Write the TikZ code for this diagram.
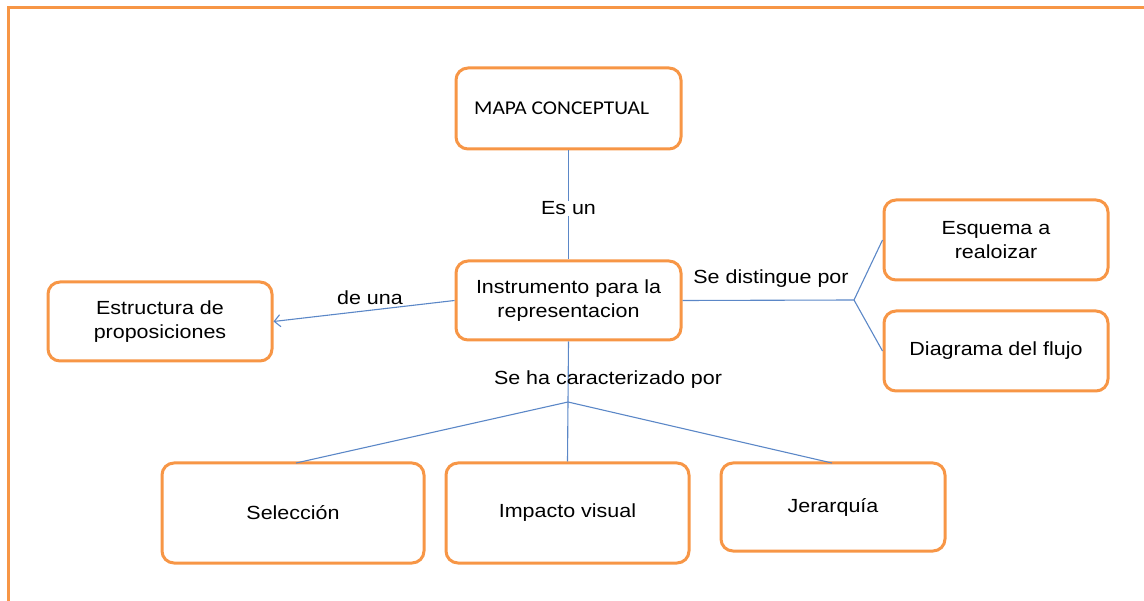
\documentclass[tikz,border=0pt]{standalone}
\usepackage{fontspec}
\setmainfont{Liberation Sans}[FakeStretch=1.13]
\newfontfamily\calib{Carlito}[FakeStretch=1.1]
\usetikzlibrary{arrows.meta}
\definecolor{borange}{HTML}{F79646}
\definecolor{lblue}{HTML}{5B87C7}
\tikzset{
  box/.style={draw=borange, line width=3pt, rounded corners=12pt, fill=white, align=center, inner sep=0pt, font=\fontsize{19}{24}\selectfont},
  conn/.style={draw=lblue, line width=1.1pt},
  lbl/.style={font=\fontsize{19}{22}\selectfont, inner sep=1pt, fill=white}
}
\begin{document}
\begin{tikzpicture}[x=1pt,y=-1pt]
\useasboundingbox (0,0) rectangle (1144,601);
\draw[borange, line width=3pt] (8,601) -- (8,8) -- (1144,8);
% nodes
\node[box, minimum width=225pt, minimum height=81pt] (mapa) at (568.5,108.5) {};
\node[anchor=west, inner sep=0pt, font=\calib\fontsize{19.5}{22}\selectfont] (mapat) at (474,108) {MAPA CONCEPTUAL};
\node[box, minimum width=225pt, minimum height=79pt] (inst) at (568.5,300.5) {Instrumento para la\\representacion};
\node[box, minimum width=224pt, minimum height=79pt] (estr) at (160,321.5) {Estructura de\\proposiciones};
\node[box, minimum width=224pt, minimum height=80pt] (esq) at (996,240) {Esquema a\\realoizar};
\node[box, minimum width=224pt, minimum height=80pt] (diag) at (996,351) {Diagrama del flujo};
\node[box, minimum width=262pt, minimum height=100pt] (sel) at (293,513) {Selección};
\node[box, minimum width=243pt, minimum height=100pt] (imp) at (567.5,513) {Impacto visual};
\node[box, minimum width=224pt, minimum height=88pt] (jer) at (833,507) {Jerarquía};
% connectors
\draw[conn] (mapa.south) -- (inst.north) node[lbl, pos=0.53] {Es un};
\draw[conn, -{Straight Barb[length=6pt,width=12pt]}] (inst.west) -- (estr.east);
\node[lbl, fill=none] (deuna) at (370,298) {de una};
\coordinate (dj) at (854,300);
\draw[conn] (inst.east) -- (dj);
\draw[conn] (dj) -- (esq.west);
\draw[conn] (dj) -- (diag.west);
\node[lbl] (sdp) at (771,279) {Se distingue por};
\coordinate (bj) at (568,402);
\draw[conn] (inst.south) -- (imp.north);
\draw[conn] (bj) -- (296,463);
\draw[conn] (bj) -- (832,463);
\node[lbl, fill=none] (shc) at (608,380) {Se ha caracterizado por};
\end{tikzpicture}
\end{document}
